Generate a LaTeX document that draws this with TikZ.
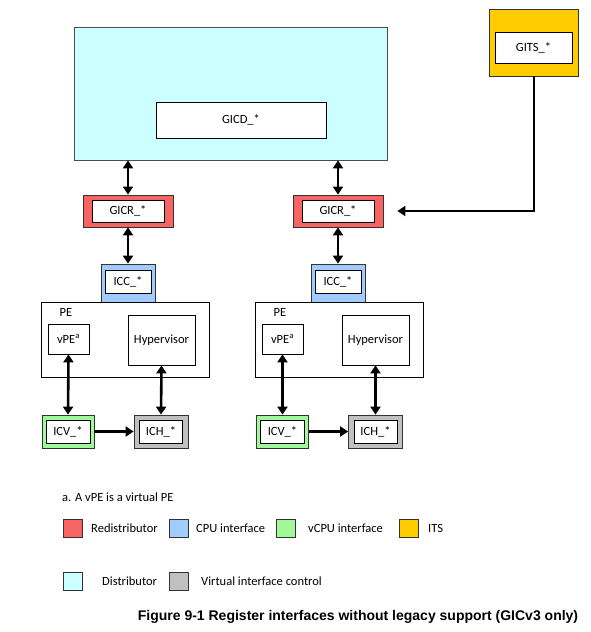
\documentclass[tikz,border=0pt]{standalone}
\usepackage{fontspec}
\setmainfont{Carlito}
\newfontfamily\capfont{Liberation Sans}
\usepackage{xcolor}
\usetikzlibrary{arrows.meta, positioning}
\definecolor{redist}{HTML}{F86464}
\definecolor{cpuif}{HTML}{A0CCFF}
\definecolor{vcpuif}{HTML}{A0F898}
\definecolor{itscol}{HTML}{FFCC00}
\definecolor{distcol}{HTML}{CCFFFF}
\definecolor{vctrl}{HTML}{C0C0C0}

\begin{document}
\begin{tikzpicture}[x=1pt, y=-1pt, font=\fontsize{12.5}{14}\selectfont,
  outer/.style={draw=black!80, line width=0.8pt, inner sep=0pt},
  reg/.style={draw, fill=white, line width=0.8pt, inner sep=0pt},
  key/.style={draw=black!80, line width=0.8pt, minimum width=19pt, minimum height=18pt, inner sep=0pt},
  lbl/.style={anchor=west, inner sep=0pt},
  tip/.style={-{Triangle[length=8pt,width=10pt]}, line width=2.6pt},
  link/.style={{Triangle[length=8pt,width=10pt]}-{Triangle[length=8pt,width=10pt]}, line width=2.6pt}]
  \useasboundingbox (0,0) rectangle (591,632);
  \node[outer, fill=distcol, draw=black!70, minimum width=313pt, minimum height=133pt] (D) at (230.5,93.5) {};
  \node[reg, minimum width=170pt, minimum height=36pt] (GICD) at (241,120) {GICD\_*};
  \node[outer, fill=itscol, minimum width=89pt, minimum height=67pt] (G) at (533.5,42.5) {};
  \node[reg, minimum width=77pt, minimum height=31pt] (Gin) at (533.5,47.5) {GITS\_*};

  \node[outer, fill=redist, minimum width=90pt, minimum height=32pt] (R1) at (128,211) {};
  \node[reg, minimum width=72pt, minimum height=22pt] (R1in) at (128,211) {GICR\_*};
  \node[outer, fill=redist, minimum width=90pt, minimum height=32pt] (R2) at (338,211) {};
  \node[reg, minimum width=72pt, minimum height=22pt] (R2in) at (338,211) {GICR\_*};

  \node[outer, fill=cpuif, minimum width=54pt, minimum height=38pt] (C1) at (128,283) {};
  \node[reg, minimum width=46pt, minimum height=23pt] (C1in) at (128,281.5) {ICC\_*};
  \node[outer, fill=cpuif, minimum width=54pt, minimum height=38pt] (C2) at (338,283) {};
  \node[reg, minimum width=46pt, minimum height=23pt] (C2in) at (338,281.5) {ICC\_*};

  \node[reg, minimum width=168pt, minimum height=75pt] (PE1) at (125,339.5) {};
  \node (PE1l) at (66,312) {PE};
  \node[reg, minimum width=41pt, minimum height=30pt] (vPE1) at (68.5,339) {vPE\textsuperscript{a}};
  \node[reg, minimum width=67pt, minimum height=50pt] (Hyp1) at (161.5,340) {Hypervisor};
  \node[reg, minimum width=168pt, minimum height=75pt] (PE2) at (339,339.5) {};
  \node (PE2l) at (280,312) {PE};
  \node[reg, minimum width=41pt, minimum height=30pt] (vPE2) at (282.5,339) {vPE\textsuperscript{a}};
  \node[reg, minimum width=67pt, minimum height=50pt] (Hyp2) at (375.5,340) {Hypervisor};

  \node[outer, fill=vcpuif, minimum width=52pt, minimum height=33pt] (V1) at (68,431.5) {};
  \node[reg, minimum width=44pt, minimum height=23pt] (V1in) at (68,431.5) {ICV\_*};
  \node[outer, fill=vctrl, minimum width=54pt, minimum height=33pt] (H1) at (161,431.5) {};
  \node[reg, minimum width=43pt, minimum height=23pt] (H1in) at (161,431.5) {ICH\_*};
  \node[outer, fill=vcpuif, minimum width=52pt, minimum height=33pt] (V2) at (282.5,431.5) {};
  \node[reg, minimum width=44pt, minimum height=23pt] (V2in) at (282.5,431.5) {ICV\_*};
  \node[outer, fill=vctrl, minimum width=54pt, minimum height=33pt] (H2) at (375.5,431.5) {};
  \node[reg, minimum width=43pt, minimum height=23pt] (H2in) at (375.5,431.5) {ICH\_*};

  \draw[link] (D.south -| R1.north) -- (R1.north);
  \draw[link] (D.south -| R2.north) -- (R2.north);
  \draw[link] (R1.south) -- (C1.north);
  \draw[link] (R2.south) -- (C2.north);
  \draw[link] (vPE1.south) -- (V1.north);
  \draw[link] (Hyp1.south) -- (H1.north);
  \draw[link] (vPE2.south) -- (V2.north);
  \draw[link] (Hyp2.south) -- (H2.north);
  \draw[tip] (V1.east) -- (H1.west);
  \draw[tip] (V2.east) -- (H2.west);
  \draw[tip, line width=2pt, shorten >=14pt] (G.south) |- (R2.east);

  \node[lbl] (note) at (62,497) {a. A vPE is a virtual PE};
  \node[key, fill=redist] (k1) at (72.5,528) {};
  \node[lbl] (k1l) at (91,528) {Redistributor};
  \node[key, fill=cpuif] (k2) at (178.5,528) {};
  \node[lbl] (k2l) at (196,528) {CPU interface};
  \node[key, fill=vcpuif] (k3) at (286,528) {};
  \node[lbl] (k3l) at (308,528) {vCPU interface};
  \node[key, fill=itscol] (k4) at (409,528) {};
  \node[lbl] (k4l) at (428,528) {ITS};
  \node[key, fill=distcol] (k5) at (72.5,581.5) {};
  \node[lbl] (k5l) at (102,581.5) {Distributor};
  \node[key, fill=vctrl] (k6) at (178.5,581.5) {};
  \node[lbl] (k6l) at (201,581.5) {Virtual interface control};
  \node[font=\capfont\bfseries\fontsize{14}{16}\selectfont] (cap) at (358,617) {Figure 9-1 Register interfaces without legacy support (GICv3 only)};
\end{tikzpicture}
\end{document}
